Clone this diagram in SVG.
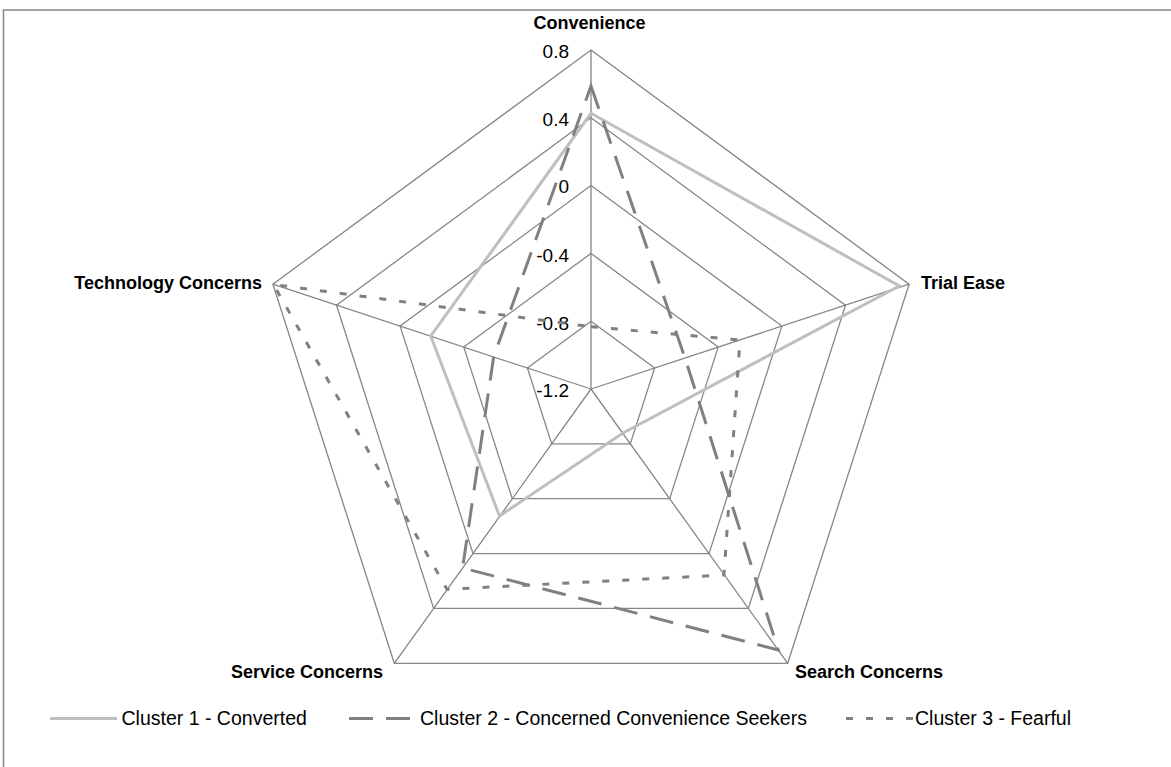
<svg xmlns="http://www.w3.org/2000/svg" width="1171" height="767" viewBox="0 0 1171 767">
<style>
.grid{fill:none;stroke:#868686;stroke-width:1.3}
.c1{fill:none;stroke:#BFBFBF;stroke-width:3;stroke-linejoin:miter}
.c2{fill:none;stroke:#808080;stroke-width:3;stroke-dasharray:24 13}
.c3{fill:none;stroke:#808080;stroke-width:3;stroke-dasharray:7 13}
.tick{font-family:"Liberation Sans",Arial,sans-serif;font-size:19px;fill:#000;text-anchor:end}
.axis{font-family:"Liberation Sans",Arial,sans-serif;font-size:18px;font-weight:bold;fill:#000}
.leg{font-family:"Liberation Sans",Arial,sans-serif;font-size:19.5px;fill:#000}
</style>
<rect x="0" y="0" width="1171" height="767" fill="#fff"/>
<rect x="3.5" y="10" width="1175" height="770" fill="none" stroke="#868686" stroke-width="1.5"/>
<g id="grid">
<polygon class="grid" points="591,321.2 654.6,368.0 630.3,443.9 551.7,443.9 527.4,368.0"/>
<polygon class="grid" points="591,253.4 718.2,347.1 669.7,498.7 512.3,498.7 463.8,347.1"/>
<polygon class="grid" points="591,185.6 781.9,326.1 709.0,553.6 473.0,553.6 400.1,326.1"/>
<polygon class="grid" points="591,117.8 845.5,305.2 748.4,608.4 433.6,608.4 336.5,305.2"/>
<polygon class="grid" points="591,50 909.1,284.2 787.7,663.3 394.3,663.3 272.9,284.2"/>
<path class="grid" d="M591,389L591,50M591,389L909.1,284.2M591,389L787.7,663.3M591,389L394.3,663.3M591,389L272.9,284.2"/>
</g>
<g id="ticks">
<text class="tick" x="569" y="58">0.8</text>
<text class="tick" x="569" y="126">0.4</text>
<text class="tick" x="569" y="193">0</text>
<text class="tick" x="569" y="262">-0.4</text>
<text class="tick" x="569" y="330">-0.8</text>
<text class="tick" x="569" y="397">-1.2</text>
</g>
<g id="axis-labels">
<text class="axis" x="589.5" y="29" text-anchor="middle">Convenience</text>
<text class="axis" x="921" y="289">Trial Ease</text>
<text class="axis" x="795" y="678">Search Concerns</text>
<text class="axis" x="383" y="678" text-anchor="end">Service Concerns</text>
<text class="axis" x="262" y="289" text-anchor="end">Technology Concerns</text>
</g>
<g id="connectors">
<polygon id="cluster1" class="c1" points="591,113.3 899.3,286 623,433 499.5,516 430.7,336"/>
<polygon id="cluster2" class="c2" points="591,86 685,358 778.3,650 462.6,568 493.6,357"/>
<polygon id="cluster3" class="c3" points="591,326.7 740,340 724,575 447,589.3 273.5,284.5"/>
</g>
<g id="legend">
<line class="c1" x1="50" y1="718.5" x2="117" y2="718.5"/>
<text class="leg" x="121.5" y="725">Cluster 1 - Converted</text>
<line class="c2" x1="349" y1="718.5" x2="410" y2="718.5"/>
<text class="leg" x="420" y="725">Cluster 2 - Concerned Convenience Seekers</text>
<line class="c3" x1="846" y1="718.5" x2="913" y2="718.5"/>
<text class="leg" x="915" y="725">Cluster 3 - Fearful</text>
</g>
</svg>
